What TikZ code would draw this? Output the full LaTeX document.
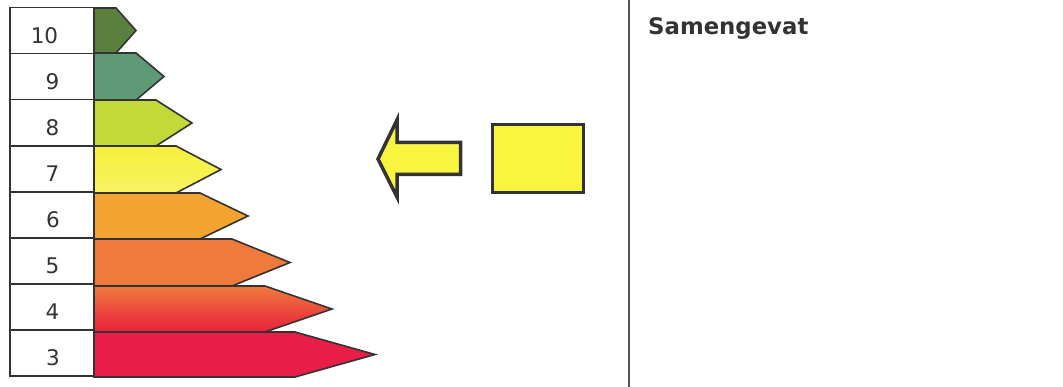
\documentclass[tikz,border=0pt]{standalone}
\usepackage{fontspec}
\setmainfont{DejaVu Sans}
\definecolor{ink}{HTML}{333333}
\definecolor{cTen}{HTML}{5B7F3C}
\definecolor{cNine}{HTML}{5E9A76}
\definecolor{cEight}{HTML}{C3D93A}
\definecolor{cSeven}{HTML}{F5F03A}
\definecolor{cSix}{HTML}{F3A330}
\definecolor{cFive}{HTML}{EE7A3C}
\definecolor{cFourT}{HTML}{F07A3C}
\definecolor{cFourB}{HTML}{E8203C}
\definecolor{cThree}{HTML}{E81E48}
\definecolor{cYel}{HTML}{F8F440}
\begin{document}
\begin{tikzpicture}[x=1pt,y=-1pt,
  labelbox/.style={draw=ink,line width=1.6pt,fill=white,minimum width=84pt,minimum height=46.1pt,inner sep=0pt},
  digit/.style={text=ink,font=\fontsize{21.5}{21.5}\selectfont,anchor=center,inner sep=0pt},
  band/.style={draw=ink,line width=1.6pt,line join=miter},
  bigshape/.style={draw=ink,line width=3.5pt,fill=cYel,line join=miter}]
\useasboundingbox (0,0) rectangle (1063,387);
% bands (arrows)
\path[band,fill=cTen]   (94,8)   -- (116,8)   -- (136,30.5)  -- (116,53)   -- (94,53) -- cycle;
\path[band,fill=cNine]  (94,53)  -- (136,53)  -- (164,76.5)  -- (136,100)  -- (94,100) -- cycle;
\path[band,fill=cEight] (94,100) -- (156,100) -- (192,123)   -- (156,146)  -- (94,146) -- cycle;
\path[band,top color=cSeven,bottom color=cSeven!80!white] (94,146) -- (176,146) -- (221,169.5) -- (176,193) -- (94,193) -- cycle;
\path[band,fill=cSix]   (94,193) -- (200,193) -- (248,216)   -- (200,239)  -- (94,239) -- cycle;
\path[band,fill=cFive]  (94,239) -- (232,239) -- (290,262.5) -- (232,286)  -- (94,286) -- cycle;
\path[band,top color=cFourT,bottom color=cFourB] (94,286) -- (265,286) -- (332,309) -- (265,332) -- (94,332) -- cycle;
\path[band,fill=cThree] (94,332) -- (295,332) -- (375,354.5) -- (295,377) -- (94,377) -- cycle;
% label boxes
\node[labelbox] (b10) at (52,30.5) {};
\node[labelbox] (b9) at (52,76.6) {};
\node[labelbox] (b8) at (52,122.7) {};
\node[labelbox] (b7) at (52,168.8) {};
\node[labelbox] (b6) at (52,214.9) {};
\node[labelbox] (b5) at (52,261) {};
\node[labelbox] (b4) at (52,307.1) {};
\node[labelbox] (b3) at (52,353.2) {};
\node[digit] (t10) at (44.5,36) {10};
\node[digit] (t9) at (52.5,82) {9};
\node[digit] (t8) at (52.5,128) {8};
\node[digit] (t7) at (52.5,174) {7};
\node[digit] (t6) at (53,220) {6};
\node[digit] (t5) at (52.5,266) {5};
\node[digit] (t4) at (52.5,312) {4};
\node[digit] (t3) at (53,358) {3};
% big arrow and square
\path[bigshape] (378,159) -- (397,120) -- (397,142.5) -- (460.5,142.5) -- (460.5,174.5) -- (397,174.5) -- (397,197) -- cycle;
\node[bigshape,minimum width=91pt,minimum height=68pt,inner sep=0pt] (sq) at (538,158.5) {};
% divider
\draw[draw=ink!85,line width=2pt] (629,0) -- (629,387);
\node[anchor=base west,inner sep=0pt,text=ink,font=\bfseries\fontsize{22.8}{22.8}\selectfont] (title) at (648,35) {Samengevat};
\end{tikzpicture}
\end{document}
